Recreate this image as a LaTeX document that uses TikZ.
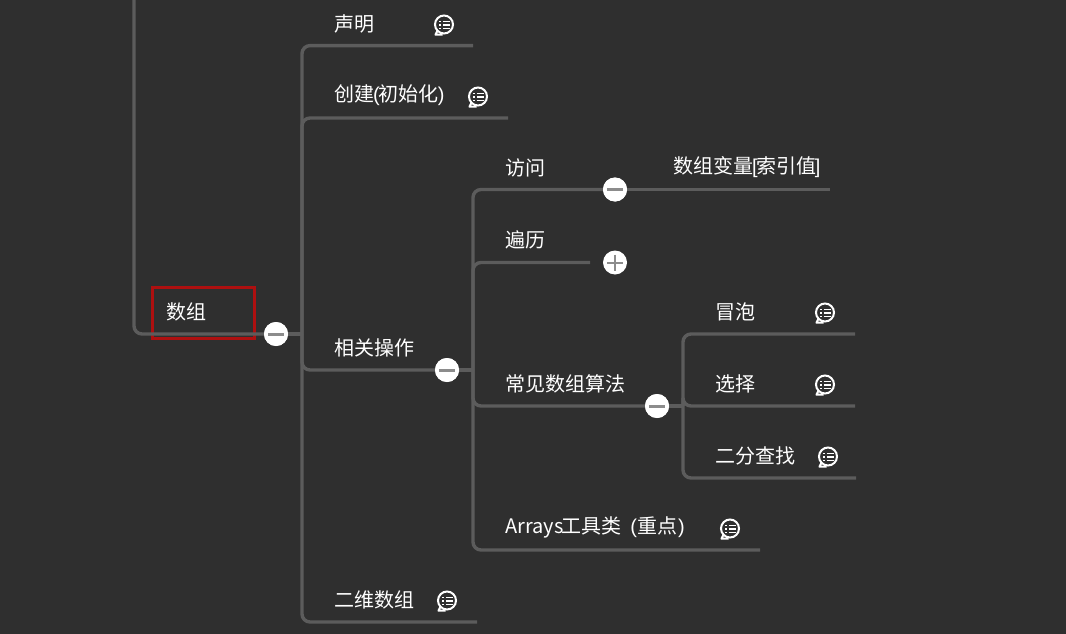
\documentclass[tikz,border=0pt]{standalone}
\usepackage{fontspec}
\setmainfont{Noto Sans CJK SC}
\newfontfamily\latinfont{Liberation Sans}
\usetikzlibrary{calc,positioning}
\definecolor{boardbg}{HTML}{2F2F2F}
\definecolor{branchgray}{HTML}{5C5C5C}
\definecolor{signgray}{HTML}{8C8C8C}
\definecolor{markred}{HTML}{AE1010}
\newcommand{\narrow}[1]{{\latinfont #1}}
\tikzset{
  topic/.style={anchor=west,inner sep=0pt,text=white,font=\fontsize{20}{24}\selectfont},
  branch/.style={draw=branchgray,line width=3.4pt,rounded corners=8pt},
  toggle/.style={circle,fill=white,minimum size=24pt,inner sep=0pt},
  minus/.style={toggle,path picture={
    \draw[signgray,line width=3pt] ($(path picture bounding box.center)+(-8,0)$) -- ($(path picture bounding box.center)+(8,0)$);}},
  plus/.style={toggle,path picture={
    \draw[signgray,line width=2pt] ($(path picture bounding box.center)+(-8,0)$) -- ($(path picture bounding box.center)+(8,0)$);
    \draw[signgray,line width=2pt] ($(path picture bounding box.center)+(0,-8)$) -- ($(path picture bounding box.center)+(0,8)$);}},
  note/.pic={
    \draw[white,line width=2pt] (0,-0.5) circle[radius=9];
    \draw[white,line width=2pt,line join=round] (-6.5,5.5) -- (-8.5,9.7) -- (-1.5,9.7);
    \foreach \k in {-3.2,0,3.2} {
      \draw[white,line width=1.3pt] (-5,\k) -- (-3.4,\k);
      \draw[white,line width=1.3pt] (-1.2,\k) -- (5.5,\k);
    }
  }
}
\begin{document}
\begin{tikzpicture}[x=1pt,y=-1pt]
  \fill[boardbg] (0,0) rectangle (1066,634);
  \useasboundingbox (0,0) rectangle (1066,634);
  % selection box
  \node[draw=markred,line width=3.5pt,minimum width=102pt,minimum height=51pt,inner sep=0pt] (mark) at (203.5,313) {};
  % text of the topics
  \foreach \nm/\x/\y/\lab in {
    root/166/311.5/数组,decl/334/23.5/声明,init/334/95.5/{创建\hspace{-1pt}\narrow{(}\hspace{-1pt}初始化\hspace{-1pt}\narrow{)}},
    oper/334/347.5/相关操作,twod/334/599.5/二维数组,
    visit/505/167.5/访问,walk/505/239.5/遍历,algo/505/383.5/常见数组算法,
    tools/505/527.5/{Arrays\hspace{-2pt}工具类\hspace{9pt}\narrow{(}\hspace{0.5pt}重点\hspace{0.5pt}\narrow{)}},
    index/673/167.5/{数组变量\hspace{-1pt}\narrow{[}\hspace{-1.5pt}索引值\hspace{-1.5pt}\narrow{]}},
    bubble/715/311.5/冒泡,pick/715/383.5/选择,search/715/455.5/二分查找} {
    \node[topic] (\nm) at (\x,\y) {\lab};
  }
  % collapse buttons
  \node[minus] (togroot) at (276,334) {};
  \node[minus] (togoper) at (447,370) {};
  \node[minus] (togvisit) at (615,189.5) {};
  \node[plus] (togwalk) at (615,262.5) {};
  \node[minus] (togalgo) at (657,406) {};
  % trunks and line ends
  \coordinate (rootup) at (134,0);
  \coordinate (trunka) at (302,334);
  \coordinate (trunkb) at (473,370);
  \coordinate (trunkc) at (683,406);
  \coordinate (declend) at (473,45.6);
  \coordinate (initend) at (508,118);
  \coordinate (operend) at (435,370);
  \coordinate (twodend) at (477,622);
  \coordinate (visitend) at (603,189.5);
  \coordinate (indexend) at (830,189.5);
  \coordinate (walkend) at (590,262.5);
  \coordinate (algoend) at (645,406);
  \coordinate (toolsend) at (760,550);
  \coordinate (bubbleend) at (855,334);
  \coordinate (pickend) at (855,406);
  \coordinate (searchend) at (856,478);
  \draw[branch] (rootup) |- (togroot);
  \draw[branch] (togroot) -- (trunka);
  \foreach \e in {declend,initend,operend,twodend} {
    \draw[branch] (trunka) |- (\e);
  }
  \draw[branch] (togoper) -- (trunkb);
  \foreach \e in {visitend,walkend,algoend,toolsend} {
    \draw[branch] (trunkb) |- (\e);
  }
  \draw[branch] (togvisit) -- (indexend);
  \draw[branch] (togalgo) -- (trunkc);
  \foreach \e in {bubbleend,pickend,searchend} {
    \draw[branch] (trunkc) |- (\e);
  }
  % buttons again so they sit over the lines
  \foreach \t in {togroot,togoper,togvisit,togalgo} {
    \node[minus] at (\t) {};
  }
  % comment marks
  \foreach \x/\y in {444/25,478/97,825/313,825/385,828/457,730/529,447/601} {
    \pic at (\x,\y) {note};
  }
\end{tikzpicture}
\end{document}
